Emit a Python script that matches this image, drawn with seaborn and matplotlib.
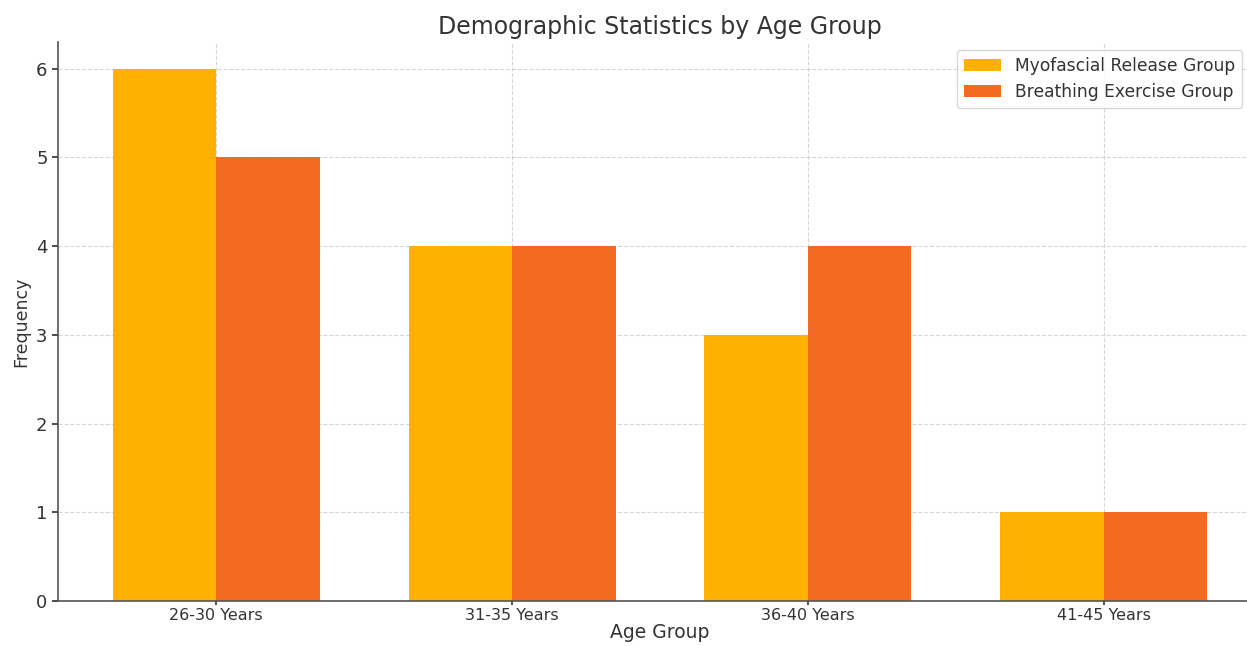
import pandas as pd
import matplotlib
matplotlib.use("Agg")
import matplotlib.pyplot as plt
import seaborn as sns

sns.set_theme(style="white")
plt.rcParams["font.family"] = ["DejaVu Sans"]

# ---------------------------------------------------------------
# Data
# ---------------------------------------------------------------
age_groups = ["26-30 Years", "31-35 Years", "36-40 Years", "41-45 Years"]
myofascial = [6, 4, 3, 1]
breathing = [5, 4, 4, 1]
group_names = ["Myofascial Release Group", "Breathing Exercise Group"]
colors = ["#FFB000", "#F26B21"]

df = pd.DataFrame({
    "age_group": age_groups * 2,
    "frequency": myofascial + breathing,
    "group": [group_names[0]] * len(age_groups) + [group_names[1]] * len(age_groups),
})

fig = plt.figure(figsize=(12.47, 6.46), dpi=100)
ax = fig.add_axes([0.0465, 0.0697, 0.9655, 0.865])

sns.barplot(data=df, x="age_group", y="frequency", hue="group",
            order=age_groups, hue_order=group_names, palette=colors,
            width=0.7, gap=0, saturation=1, linewidth=0, ax=ax)

ax.set_xlim(-0.535, 3.535)
ax.set_ylim(0, 6.3)
ax.set_axisbelow(True)
ax.grid(True, linestyle="--", color="#cccccc", linewidth=0.8, alpha=0.8)

text_color = "#333333"
ax.set_title("Demographic Statistics by Age Group", fontsize=17, color=text_color, pad=6)
ax.set_xlabel("Age Group", fontsize=13.5, color=text_color, labelpad=0)
ax.set_ylabel("Frequency", fontsize=12.5, color=text_color)
ax.tick_params(axis="x", labelsize=11.5, colors=text_color, length=3, pad=2)
ax.tick_params(axis="y", labelsize=13, colors=text_color, length=4)
ax.tick_params(bottom=True, left=True)

for side in ["top", "right"]:
    ax.spines[side].set_visible(False)
for side in ["left", "bottom"]:
    ax.spines[side].set_color("#555555")
    ax.spines[side].set_linewidth(1.2)

leg = ax.legend(loc="upper left", bbox_to_anchor=(0.7467, 0.986), borderaxespad=0,
                fontsize=12.3, frameon=True, handlelength=2.2, labelcolor=text_color)
leg.get_frame().set_edgecolor("#cccccc")

fig.savefig("out.png", dpi=100)
plt.close(fig)
